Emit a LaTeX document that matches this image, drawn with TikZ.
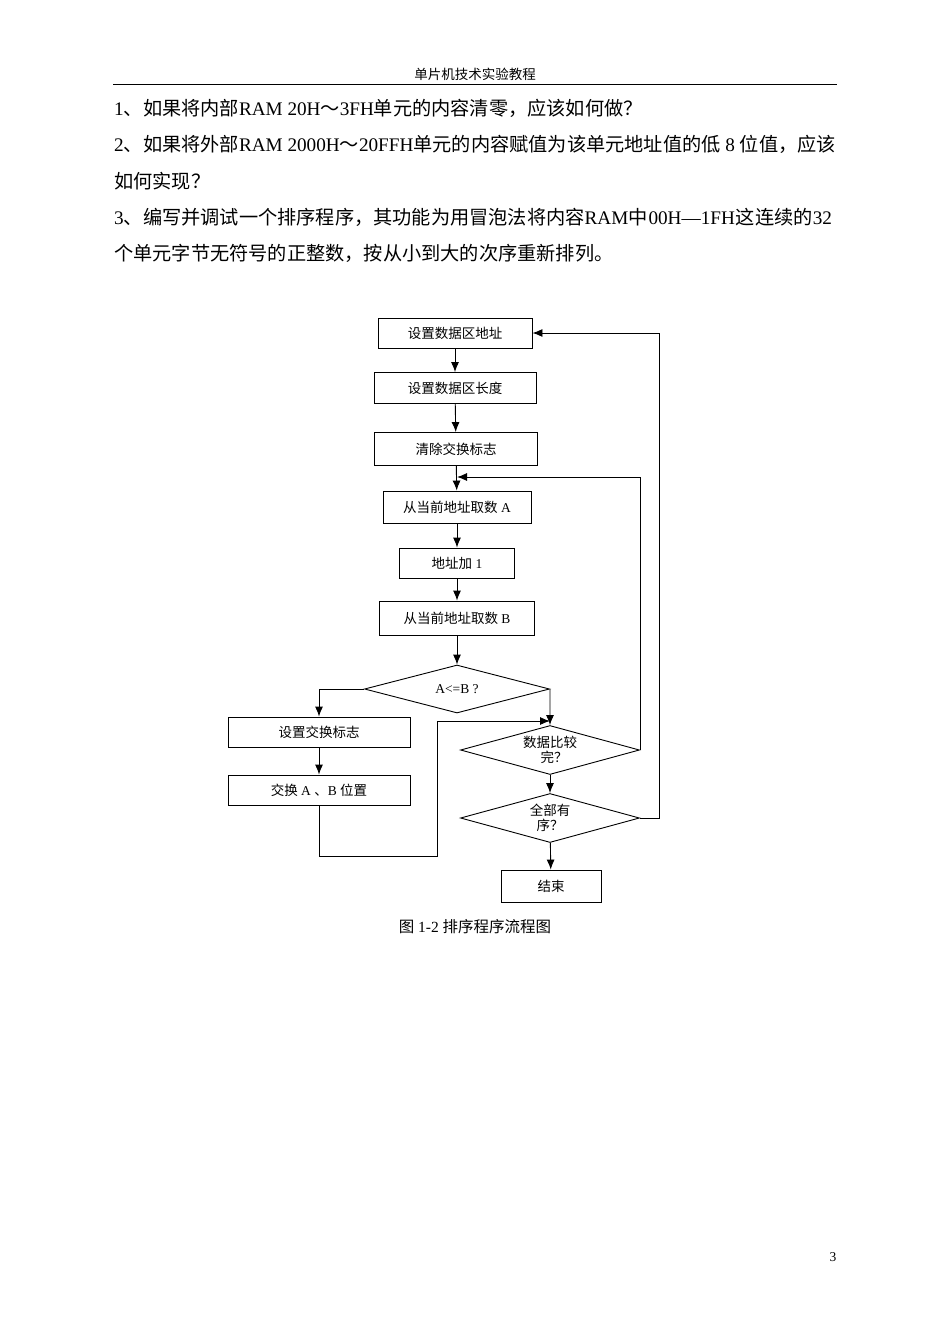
\documentclass[tikz,border=0pt]{standalone}
\usepackage{fontspec}
\setmainfont{Noto Sans CJK SC}
\newfontfamily\latf{Liberation Serif}
\newcommand{\lt}[1]{{\latf #1}}
\usetikzlibrary{shapes.geometric,arrows.meta}
\begin{document}
\begin{tikzpicture}[x=1pt,y=-1pt,
  box/.style={draw,line width=0.9pt,inner sep=0pt,font=\fontsize{13.5}{15}\selectfont},
  dia/.style={draw,line width=0.9pt,diamond,inner sep=0pt,font=\fontsize{13.5}{15}\selectfont,align=center},
  ar/.style={line width=0.9pt,-{Latex[length=10pt,width=8pt]}},
  body/.style={anchor=west,inner sep=0pt,font=\fontsize{19.2}{22}\selectfont}]
\useasboundingbox (0,0) rectangle (950,1344);
% header
\node[inner sep=0pt,font=\fontsize{13.5}{15}\selectfont] (hdr) at (475,74) {单片机技术实验教程};
\draw[line width=0.8pt] (113,84) -- (837,84);
% body text
\node[body] (t1) at (114,108) {\lt{1}、如果将内部\lt{RAM 20H}～\lt{3FH}单元的内容清零，应该如何做？};
\node[body] (t2) at (114,144) {\lt{2}、如果将外部\lt{RAM 2000H}～\lt{20FFH}单元的内容赋值为该单元地址值的低\lt{ 8 }位值，应该};
\node[body] (t3) at (114,181) {如何实现？};
\node[body] (t4) at (114,217) {\lt{3}、编写并调试一个排序程序，其功能为用冒泡法将内容\lt{RAM}中\hspace{1pt}\lt{00H—1FH}\hspace{1pt}这连续的\lt{32}};
\node[body] (t5) at (114,253) {个单元字节无符号的正整数，按从小到大的次序重新排列。};
% flowchart
\node[box,minimum width=154,minimum height=30] (b1) at (455,333) {设置数据区地址};
\node[box,minimum width=162,minimum height=31] (b2) at (455,388) {设置数据区长度};
\node[box,minimum width=163,minimum height=33] (b3) at (456,449) {清除交换标志};
\node[box,minimum width=148,minimum height=32] (b4) at (457,507) {从当前地址取数\lt{ A}};
\node[box,minimum width=115,minimum height=30] (b5) at (457,563) {地址加\lt{ 1}};
\node[box,minimum width=155,minimum height=34] (b6) at (457,618) {从当前地址取数\lt{ B}};
\node[dia,minimum width=185,minimum height=48,aspect=3.85] (d1) at (457,689) {\lt{A<=B ?}};
\node[box,minimum width=182,minimum height=30] (s1) at (319,732) {设置交换标志};
\node[box,minimum width=182,minimum height=30] (s2) at (319,790) {交换\lt{ A }、\lt{B }位置};
\node[dia,minimum width=179,minimum height=49,aspect=3.65] (d2) at (550,750) {数据比较\\\hspace*{8pt}完？};
\node[dia,minimum width=179,minimum height=49,aspect=3.65] (d3) at (550,818) {全部有\\序？};
\node[box,minimum width=100,minimum height=32] (e) at (551,886) {结束};
\node[inner sep=0pt,font=\fontsize{15.5}{17}\selectfont] (cap) at (475,927) {图\lt{ 1-2 }排序程序流程图};
\node[inner sep=0pt,font=\fontsize{13.5}{15}\selectfont] (pg) at (833,1257) {\lt{3}};
\coordinate (c1) at (319,856);
\coordinate (c2) at (437,856);
\coordinate (c3) at (437,721);
\coordinate (c4) at (550,721);
\coordinate (c6) at (457,477);
\coordinate (c7) at (659,818);
\coordinate (c8) at (659,333);
\draw[ar] (b1) -- (b2);
\draw[ar] (b2) -- (b3);
\draw[ar] (b3) -- (b4);
\draw[ar] (b4) -- (b5);
\draw[ar] (b5) -- (b6);
\draw[ar] (b6) -- (d1);
\draw[ar] (d1.west) -| (s1.north);
\draw[ar] (d1.east) -- (d2.north);
\draw[ar] (s1) -- (s2);
\draw[ar] (s2.south) -- (c1) -- (c2) -- (c3) -- (c4);
\draw[ar] (d2.east) |- (c6);
\draw[ar] (d2) -- (d3);
\draw[ar] (d3.east) -- (c7) -- (c8) -- (b1.east);
\draw[ar] (d3) -- (e);
\end{tikzpicture}
\end{document}
